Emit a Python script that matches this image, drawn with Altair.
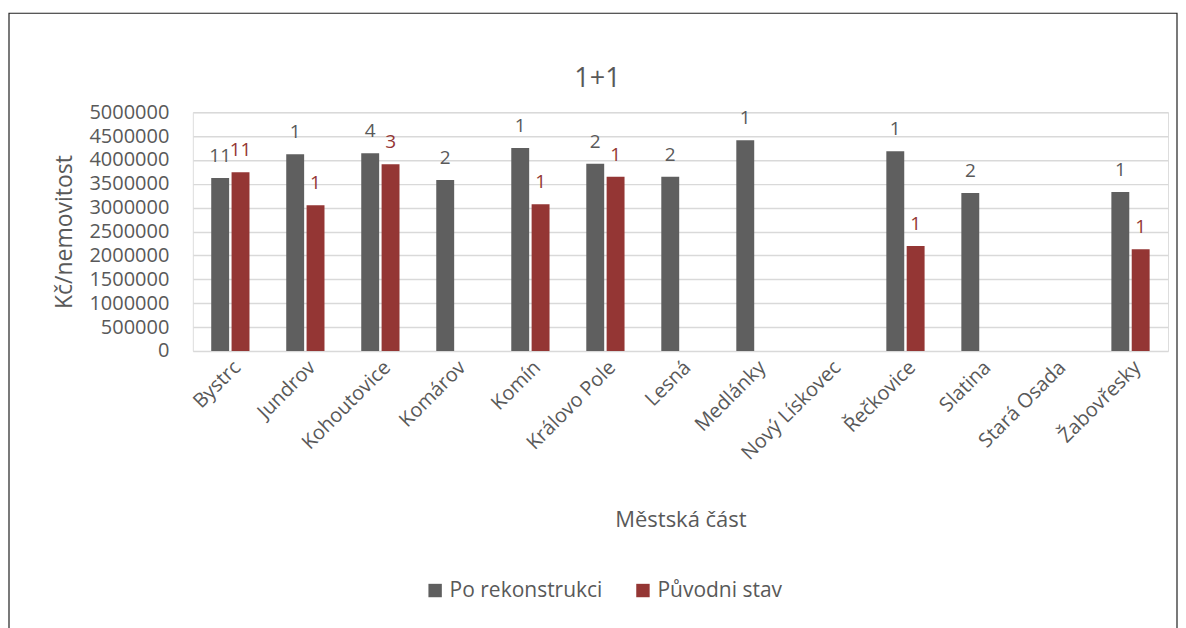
import altair as alt
import pandas as pd

categories = ["Bystrc", "Jundrov", "Kohoutovice", "Komárov", "Komín", "Královo Pole",
              "Lesná", "Medlánky", "Nový Lískovec", "Řečkovice", "Slatina",
              "Stará Osada", "Žabovřesky"]
series = ["Po rekonstrukci", "Původni stav"]
po_values = [3620000, 4120000, 4140000, 3580000, 4250000, 3920000,
             3650000, 4410000, None, 4180000, 3310000, None, 3330000]
po_counts = [11, 1, 4, 2, 1, 2, 2, 1, None, 1, 2, None, 1]
pu_values = [3740000, 3050000, 3910000, None, 3070000, 3650000,
             None, None, None, 2200000, None, None, 2130000]
pu_counts = [11, 1, 3, None, 1, 1, None, None, None, 1, None, None, 1]
colors = ["#5f5f5f", "#943634"]
y_ticks = list(range(0, 5000001, 500000))
chart_title = "1+1"

rows = []
for c, v, n in zip(categories, po_values, po_counts):
    if v is not None:
        rows.append({"cat": c, "series": series[0], "value": v, "count": str(n)})
for c, v, n in zip(categories, pu_values, pu_counts):
    if v is not None:
        rows.append({"cat": c, "series": series[1], "value": v, "count": str(n)})
df = pd.DataFrame(rows)

FONT = "Open Sans"
GREY = "#595959"

x = alt.X("cat:N", scale=alt.Scale(domain=categories, paddingInner=0.49, paddingOuter=0.245),
          sort=categories,
          axis=alt.Axis(title="Městská část", labelAngle=-45, labelFontSize=20,
                        labelColor=GREY, titleFontSize=22, titleColor=GREY,
                        titleFontWeight="normal", titlePadding=46, ticks=False,
                        domain=False, labelPadding=6, labelFont=FONT, titleFont=FONT))
xoff = alt.XOffset("series:N", scale=alt.Scale(domain=series, paddingInner=0.12))
color = alt.Color("series:N", scale=alt.Scale(domain=series, range=colors),
                  legend=alt.Legend(title=None, orient="none", legendX=232, legendY=468,
                                    direction="horizontal", symbolType="square",
                                    symbolSize=180, labelFontSize=21, labelColor=GREY,
                                    labelFont=FONT, columnPadding=30, symbolStrokeWidth=0))
y = alt.Y("value:Q", scale=alt.Scale(domain=[0, 5000000], nice=False),
          axis=alt.Axis(title="Kč/nemovitost", values=y_ticks, format="d",
                        labelFontSize=20, labelColor=GREY, labelFont=FONT,
                        titleFontSize=23, titleColor=GREY, titleFont=FONT,
                        titleFontWeight="normal", titlePadding=12, ticks=False,
                        domain=False, labelPadding=24, gridColor="#d9d9d9",
                        gridWidth=1.5))

bars = alt.Chart(df).mark_bar().encode(x=x, xOffset=xoff, y=y, color=color)
labels = alt.Chart(df).mark_text(dy=-12, baseline="bottom", fontSize=19, font=FONT).encode(
    x=x, xOffset=xoff, y=y, text="count:N",
    color=alt.Color("series:N", scale=alt.Scale(domain=series, range=[GREY, "#943634"]), legend=None))

frame = alt.Chart(pd.DataFrame({"a": [0]})).mark_rect(
    fill=None, stroke="#222222", strokeWidth=1.2, clip=False).encode(
    x=alt.value(-184), x2=alt.value(985), y=alt.value(-99), y2=alt.value(540))

title = alt.Chart(pd.DataFrame({"t": [chart_title]})).mark_text(
    fontSize=27, color=GREY, font=FONT, align="center", baseline="middle").encode(
    text="t:N", x=alt.value(405), y=alt.value(-33))

chart = alt.layer(frame, bars, labels, title).resolve_scale(color="independent").properties(
    width=976, height=239,
    padding={"top": 4, "left": 0, "right": 0, "bottom": 0},
).configure_view(stroke=None).configure(background="white")

chart.save("out.html", embed_options={"renderer": "svg", "actions": False})
